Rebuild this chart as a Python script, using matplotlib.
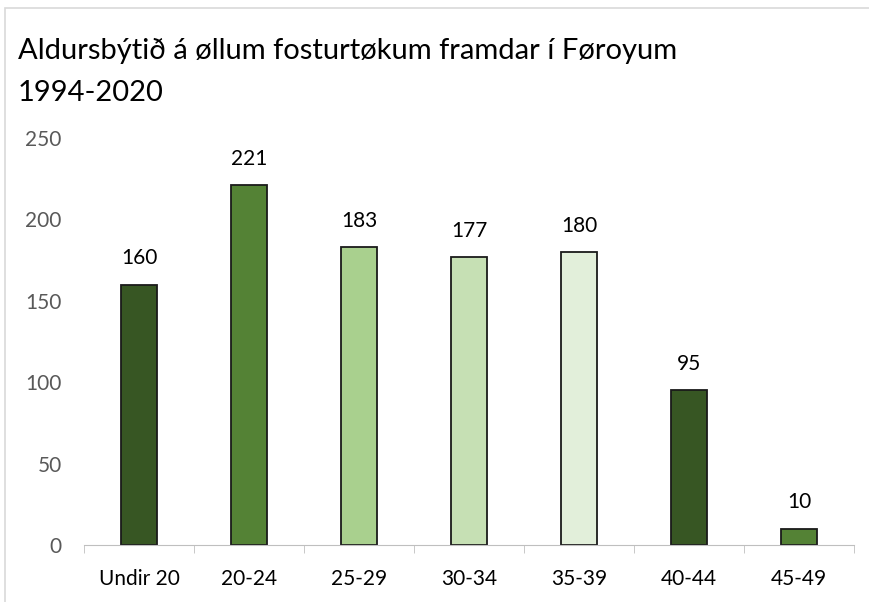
import matplotlib.pyplot as plt
from matplotlib.patches import Rectangle

categories = ['Undir 20', '20-24', '25-29', '30-34', '35-39', '40-44', '45-49']
counts = [160, 221, 183, 177, 180, 95, 10]
colors = ['#375623', '#548235', '#A9D08E', '#C6E0B4', '#E2EFDA', '#375623', '#548235']

plt.rcParams['font.family'] = ['Lato', 'DejaVu Sans']

fig = plt.figure(figsize=(8.69, 6.02), dpi=100)
# chart frame (light grey border, cropped on right/bottom)
fig.patches.append(Rectangle((5 / 869, -0.1), 1.2, (602 - 8) / 602 + 0.1,
                             transform=fig.transFigure, fill=False,
                             edgecolor='#D9D9D9', linewidth=1.2))

ax = fig.add_axes([84 / 869, 57 / 602, 770 / 869, 407 / 602])
x = range(len(categories))
bars = ax.bar(x, counts, width=0.32, color=colors, edgecolor='#1a1a1a', linewidth=1.3)
for xi, v in zip(x, counts):
    ax.text(xi, v + 10, str(v), ha='center', va='bottom', fontsize=15, color='#000000')

ax.set_xlim(-0.5, len(categories) - 0.5)
ax.set_ylim(0, 250)
ax.set_yticks(range(0, 251, 50))
ax.set_xticks(list(x))
ax.set_xticklabels(categories)
ax.set_xticks([i - 0.5 for i in range(len(categories) + 1)], minor=True)
ax.tick_params(axis='x', which='major', length=0, labelsize=15, pad=17, labelcolor='#000000')
ax.tick_params(axis='x', which='minor', length=6, color='#BFBFBF')
ax.tick_params(axis='y', length=0, labelsize=15, pad=16, labelcolor='#595959')
for s in ['top', 'right', 'left']:
    ax.spines[s].set_visible(False)
ax.spines['bottom'].set_color('#BFBFBF')

fig.text(18 / 869, 1 - 38 / 602, 'Aldursbýtið á øllum fosturtøkum framdar í Føroyum\n1994-2020',
         ha='left', va='top', fontsize=21, color='#000000', linespacing=1.75)

plt.savefig('out.png', dpi=100)
